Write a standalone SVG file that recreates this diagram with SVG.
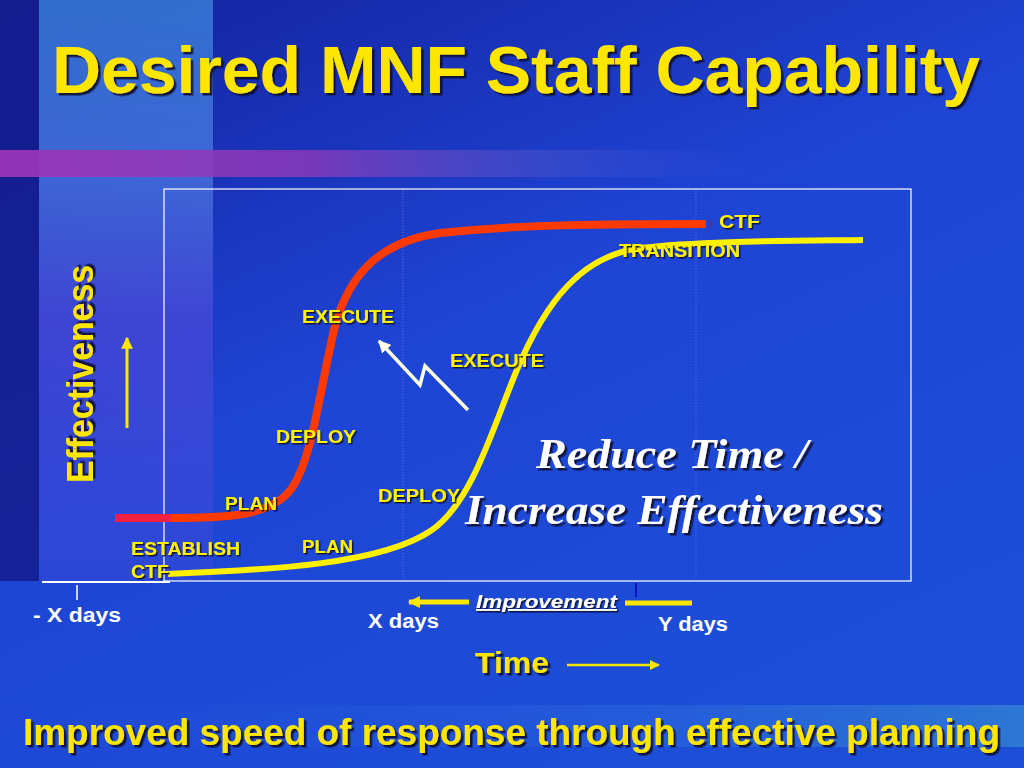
<svg xmlns="http://www.w3.org/2000/svg" width="1024" height="768" viewBox="0 0 1024 768">
<defs>
  <linearGradient id="bg" x1="0" y1="0" x2="0.6" y2="1">
    <stop offset="0" stop-color="#14209c"/>
    <stop offset="0.5" stop-color="#1e44d4"/>
    <stop offset="1" stop-color="#1c4ed8"/>
  </linearGradient>
  <linearGradient id="band" x1="0" y1="0" x2="0" y2="1">
    <stop offset="0" stop-color="#3a86dc"/>
    <stop offset="0.3" stop-color="#4a78e0"/>
    <stop offset="0.55" stop-color="#4a48d8"/>
    <stop offset="1" stop-color="#3048d8"/>
  </linearGradient>
  <linearGradient id="mag" x1="0" y1="0" x2="1" y2="0">
    <stop offset="0" stop-color="#9a34b8" stop-opacity="0.95"/>
    <stop offset="0.4" stop-color="#9038b8" stop-opacity="0.8"/>
    <stop offset="0.75" stop-color="#6060d0" stop-opacity="0.3"/>
    <stop offset="1" stop-color="#4050e0" stop-opacity="0"/>
  </linearGradient>
  <linearGradient id="bot" x1="0" y1="0" x2="1" y2="0">
    <stop offset="0" stop-color="#2a60e0" stop-opacity="0"/>
    <stop offset="0.6" stop-color="#3070e0" stop-opacity="0.35"/>
    <stop offset="1" stop-color="#40a0d0" stop-opacity="0.5"/>
  </linearGradient>
  <filter id="sh" x="-10%" y="-20%" width="130%" height="160%">
    <feDropShadow dx="2.5" dy="2.5" stdDeviation="0.6" flood-color="#0a0a30" flood-opacity="0.9"/>
  </filter>
  <filter id="shs" x="-10%" y="-30%" width="130%" height="180%">
    <feDropShadow dx="1.5" dy="1.5" stdDeviation="0.4" flood-color="#0a0a30" flood-opacity="0.9"/>
  </filter>
  <marker id="ya" viewBox="0 0 10 10" refX="9" refY="5" markerWidth="4" markerHeight="4" orient="auto">
    <path d="M0,0 L10,5 L0,10 z" fill="#FFE600"/>
  </marker>
  <marker id="yab" viewBox="0 0 10 10" refX="9" refY="5" markerWidth="2.6" markerHeight="2.4" orient="auto">
    <path d="M0,0 L10,5 L0,10 z" fill="#FFE600"/>
  </marker>
  <marker id="wa" viewBox="0 0 10 10" refX="9" refY="5" markerWidth="3.6" markerHeight="3.6" orient="auto">
    <path d="M0,0 L10,5 L0,10 z" fill="#FFFFE8"/>
  </marker>
  <style>
    .lbl{font-family:"Liberation Sans",Arial,sans-serif;font-weight:bold;font-size:18px;fill:#FFF200;filter:url(#shs)}
    .days{font-family:"Liberation Sans",Arial,sans-serif;font-size:20px;font-weight:bold;fill:#FFFFFF}
    .big{font-family:"Liberation Serif","Times New Roman",serif;font-weight:bold;font-style:italic;font-size:42px;fill:#FFFFFF;filter:url(#sh)}
    .ttl{font-family:"Liberation Sans",Arial,sans-serif;font-weight:bold;fill:#FFE600;filter:url(#sh)}
  </style>
</defs>

<g id="background">
  <rect x="0" y="0" width="1024" height="768" fill="url(#bg)"/>
  <rect x="0" y="0" width="39" height="581" fill="#141c8c" opacity="0.85"/>
  <rect x="39" y="0" width="174" height="581" fill="url(#band)" opacity="0.75"/>
  <rect x="0" y="150" width="760" height="27" fill="url(#mag)"/>
  <rect x="0" y="705" width="1024" height="42" fill="url(#bot)"/>
</g>

<g id="chart-frame">
  <rect x="164" y="189" width="747" height="392" fill="none" stroke="#FFFFFF" stroke-width="1.2"/>
  <line x1="403" y1="190" x2="403" y2="580" stroke="#8aa0ff" stroke-width="1" stroke-dasharray="1 2" opacity="0.6"/>
  <line x1="696" y1="190" x2="696" y2="580" stroke="#8aa0ff" stroke-width="1" stroke-dasharray="1 2" opacity="0.6"/>
  <line x1="42" y1="582" x2="170" y2="582" stroke="#FFFFFF" stroke-width="2"/>
  <line x1="77" y1="585" x2="77" y2="600" stroke="#FFFFFF" stroke-width="1.5"/>
  <line x1="636" y1="583" x2="636" y2="597" stroke="#1010c0" stroke-width="2"/>
</g>

<g id="connectors">
  <path id="red-curve" d="M170,518 C230,518 272,516 292,488 C312,458 318,400 334,330 C350,265 390,240 440,233 C520,224 620,224 706,224" fill="none" stroke="#FF3A00" stroke-width="8"/>
  <path id="red-start" d="M115,518 L171,518" fill="none" stroke="#F02040" stroke-width="8"/>
  <path id="yellow-curve" d="M168,574 C260,570 380,566 432,530 C472,502 492,430 516,372 C546,300 582,256 640,248 C700,241 780,241 863,240" fill="none" stroke="#FFF000" stroke-width="6"/>
  <polyline id="zigzag" points="468,410 425,366 420,385 379,341" fill="none" stroke="#FFFFE8" stroke-width="3.5" stroke-linejoin="miter" marker-end="url(#wa)"/>
  <line id="eff-arrow" x1="127" y1="428" x2="127" y2="338" stroke="#FFE600" stroke-width="3" marker-end="url(#ya)"/>
  <line id="time-arrow" x1="567" y1="665" x2="659" y2="665" stroke="#FFE600" stroke-width="2.5" marker-end="url(#ya)"/>
  <line id="improve-left" x1="469" y1="602" x2="409" y2="602" stroke="#FFE600" stroke-width="5" marker-end="url(#yab)"/>
  <line id="improve-right" x1="625" y1="603" x2="692" y2="603" stroke="#FFE600" stroke-width="5"/>
</g>

<g id="title">
  <text class="ttl" x="52" y="93" font-size="66" textLength="928" lengthAdjust="spacingAndGlyphs">Desired MNF Staff Capability</text>
</g>

<g id="y-axis-label">
  <text class="ttl" transform="translate(93,374) rotate(-90)" text-anchor="middle" font-size="37" textLength="218" lengthAdjust="spacingAndGlyphs">Effectiveness</text>
</g>

<g id="stage-labels">
  <text class="lbl" x="719" y="228" textLength="41" lengthAdjust="spacingAndGlyphs">CTF</text>
  <text class="lbl" x="619" y="257" textLength="121" lengthAdjust="spacingAndGlyphs">TRANSITION</text>
  <text class="lbl" x="302" y="323" textLength="92" lengthAdjust="spacingAndGlyphs">EXECUTE</text>
  <text class="lbl" x="450" y="367" textLength="94" lengthAdjust="spacingAndGlyphs">EXECUTE</text>
  <text class="lbl" x="276" y="443" textLength="80" lengthAdjust="spacingAndGlyphs">DEPLOY</text>
  <text class="lbl" x="378" y="502" textLength="82" lengthAdjust="spacingAndGlyphs">DEPLOY</text>
  <text class="lbl" x="225" y="510" textLength="52" lengthAdjust="spacingAndGlyphs">PLAN</text>
  <text class="lbl" x="302" y="553" textLength="51" lengthAdjust="spacingAndGlyphs">PLAN</text>
  <text class="lbl" x="131" y="555" textLength="109" lengthAdjust="spacingAndGlyphs">ESTABLISH</text>
  <text class="lbl" x="131" y="578" textLength="38" lengthAdjust="spacingAndGlyphs">CTF</text>
</g>

<g id="message">
  <text class="big" x="536" y="468" textLength="272" lengthAdjust="spacingAndGlyphs">Reduce Time /</text>
  <text class="big" x="465" y="524" textLength="418" lengthAdjust="spacingAndGlyphs">Increase Effectiveness</text>
</g>

<g id="time-axis">
  <text class="days" x="33" y="622" textLength="88" lengthAdjust="spacingAndGlyphs">- X days</text>
  <text class="days" x="368" y="628" textLength="71" lengthAdjust="spacingAndGlyphs">X days</text>
  <text class="days" x="658" y="631" textLength="70" lengthAdjust="spacingAndGlyphs">Y days</text>
  <text x="476" y="608" font-family="Liberation Sans,Arial,sans-serif" font-size="19" font-weight="bold" font-style="italic" fill="#FFFFFF" text-decoration="underline" textLength="141" lengthAdjust="spacingAndGlyphs" filter="url(#shs)">Improvement</text>
  <text class="ttl" x="475" y="673" font-size="29" textLength="74" lengthAdjust="spacingAndGlyphs">Time</text>
</g>

<g id="footer">
  <text class="ttl" x="23" y="745" font-size="37" textLength="977" lengthAdjust="spacingAndGlyphs">Improved speed of response through effective planning</text>
</g>
</svg>
